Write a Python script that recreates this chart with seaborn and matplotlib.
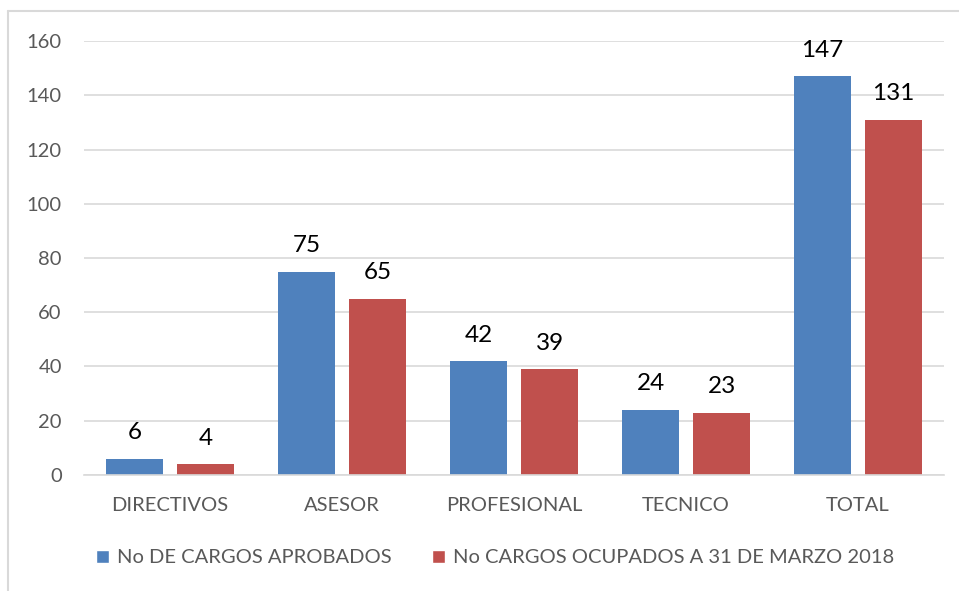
"""
Cargos aprobados vs ocupados - grouped bar chart recreated with seaborn.
"""

import pandas as pd
import matplotlib
matplotlib.use("Agg")
import matplotlib.pyplot as plt
from matplotlib.lines import Line2D
from matplotlib.patches import Patch
import seaborn as sns

# ---------------------------------------------------------------------------
# DATA
# ---------------------------------------------------------------------------
categories = ["DIRECTIVOS", "ASESOR", "PROFESIONAL", "TECNICO", "TOTAL"]
series_names = ["No DE CARGOS APROBADOS", "No CARGOS OCUPADOS A 31 DE MARZO 2018"]
aprobados = [6, 75, 42, 24, 147]
ocupados = [4, 65, 39, 23, 131]
y_ticks = [0, 20, 40, 60, 80, 100, 120, 140, 160]

BLUE = "#4F81BD"
RED = "#C0504D"
GRID = "#D9D9D9"
TEXT = "#595959"

df = pd.DataFrame({
    "categoria": categories * 2,
    "serie": [series_names[0]] * len(categories) + [series_names[1]] * len(categories),
    "valor": aprobados + ocupados,
})

sns.set_theme(style="white")
plt.rcParams["font.family"] = ["Lato", "DejaVu Sans"]

fig = plt.figure(figsize=(9.59, 5.91), dpi=100)
ax = fig.add_axes([0.0876, 0.1963, 0.8968, 0.7343])

sns.barplot(
    data=df, x="categoria", y="valor", hue="serie",
    order=categories, hue_order=series_names,
    palette=[BLUE, RED], width=0.826, gap=0.197,
    saturation=1, linewidth=0, legend=False, ax=ax,
)

# value labels above the bars
for cont in ax.containers:
    for bar in cont:
        h = bar.get_height()
        ax.annotate(f"{h:.0f}", (bar.get_x() + bar.get_width() / 2, h),
                    xytext=(0, 14), textcoords="offset points",
                    ha="center", va="baseline", fontsize=17.5, color="black")

ax.set_ylim(0, 160)
ax.set_yticks(y_ticks)
ax.set_xlim(-0.5, len(categories) - 0.5)
ax.yaxis.grid(True, color=GRID, linewidth=1.2)
ax.set_axisbelow(True)
for side in ["top", "right", "left"]:
    ax.spines[side].set_visible(False)
ax.spines["bottom"].set_color(GRID)
ax.spines["bottom"].set_linewidth(1.2)
ax.tick_params(axis="y", length=0, pad=16, labelsize=14.5, labelcolor=TEXT)
ax.tick_params(axis="x", length=0, pad=16, labelsize=14.5, labelcolor=TEXT)
ax.set_xlabel("")
ax.set_ylabel("")

# legend at the bottom
handles = [Patch(facecolor=BLUE), Patch(facecolor=RED)]
fig.legend(handles, series_names, loc="center", bbox_to_anchor=(0.516, 0.056),
           ncol=2, frameon=False, fontsize=14.5, labelcolor=TEXT,
           handlelength=0.65, handleheight=0.65, handletextpad=0.4,
           columnspacing=2.0)

# chart-area frame (only left and top edges visible in the crop)
fig.add_artist(Line2D([8 / 959, 8 / 959], [0, 1 - 11 / 591],
                      transform=fig.transFigure, color=GRID, linewidth=1.5))
fig.add_artist(Line2D([8 / 959, 1], [1 - 11 / 591, 1 - 11 / 591],
                      transform=fig.transFigure, color=GRID, linewidth=1.5))

fig.savefig("out.png", dpi=100)
